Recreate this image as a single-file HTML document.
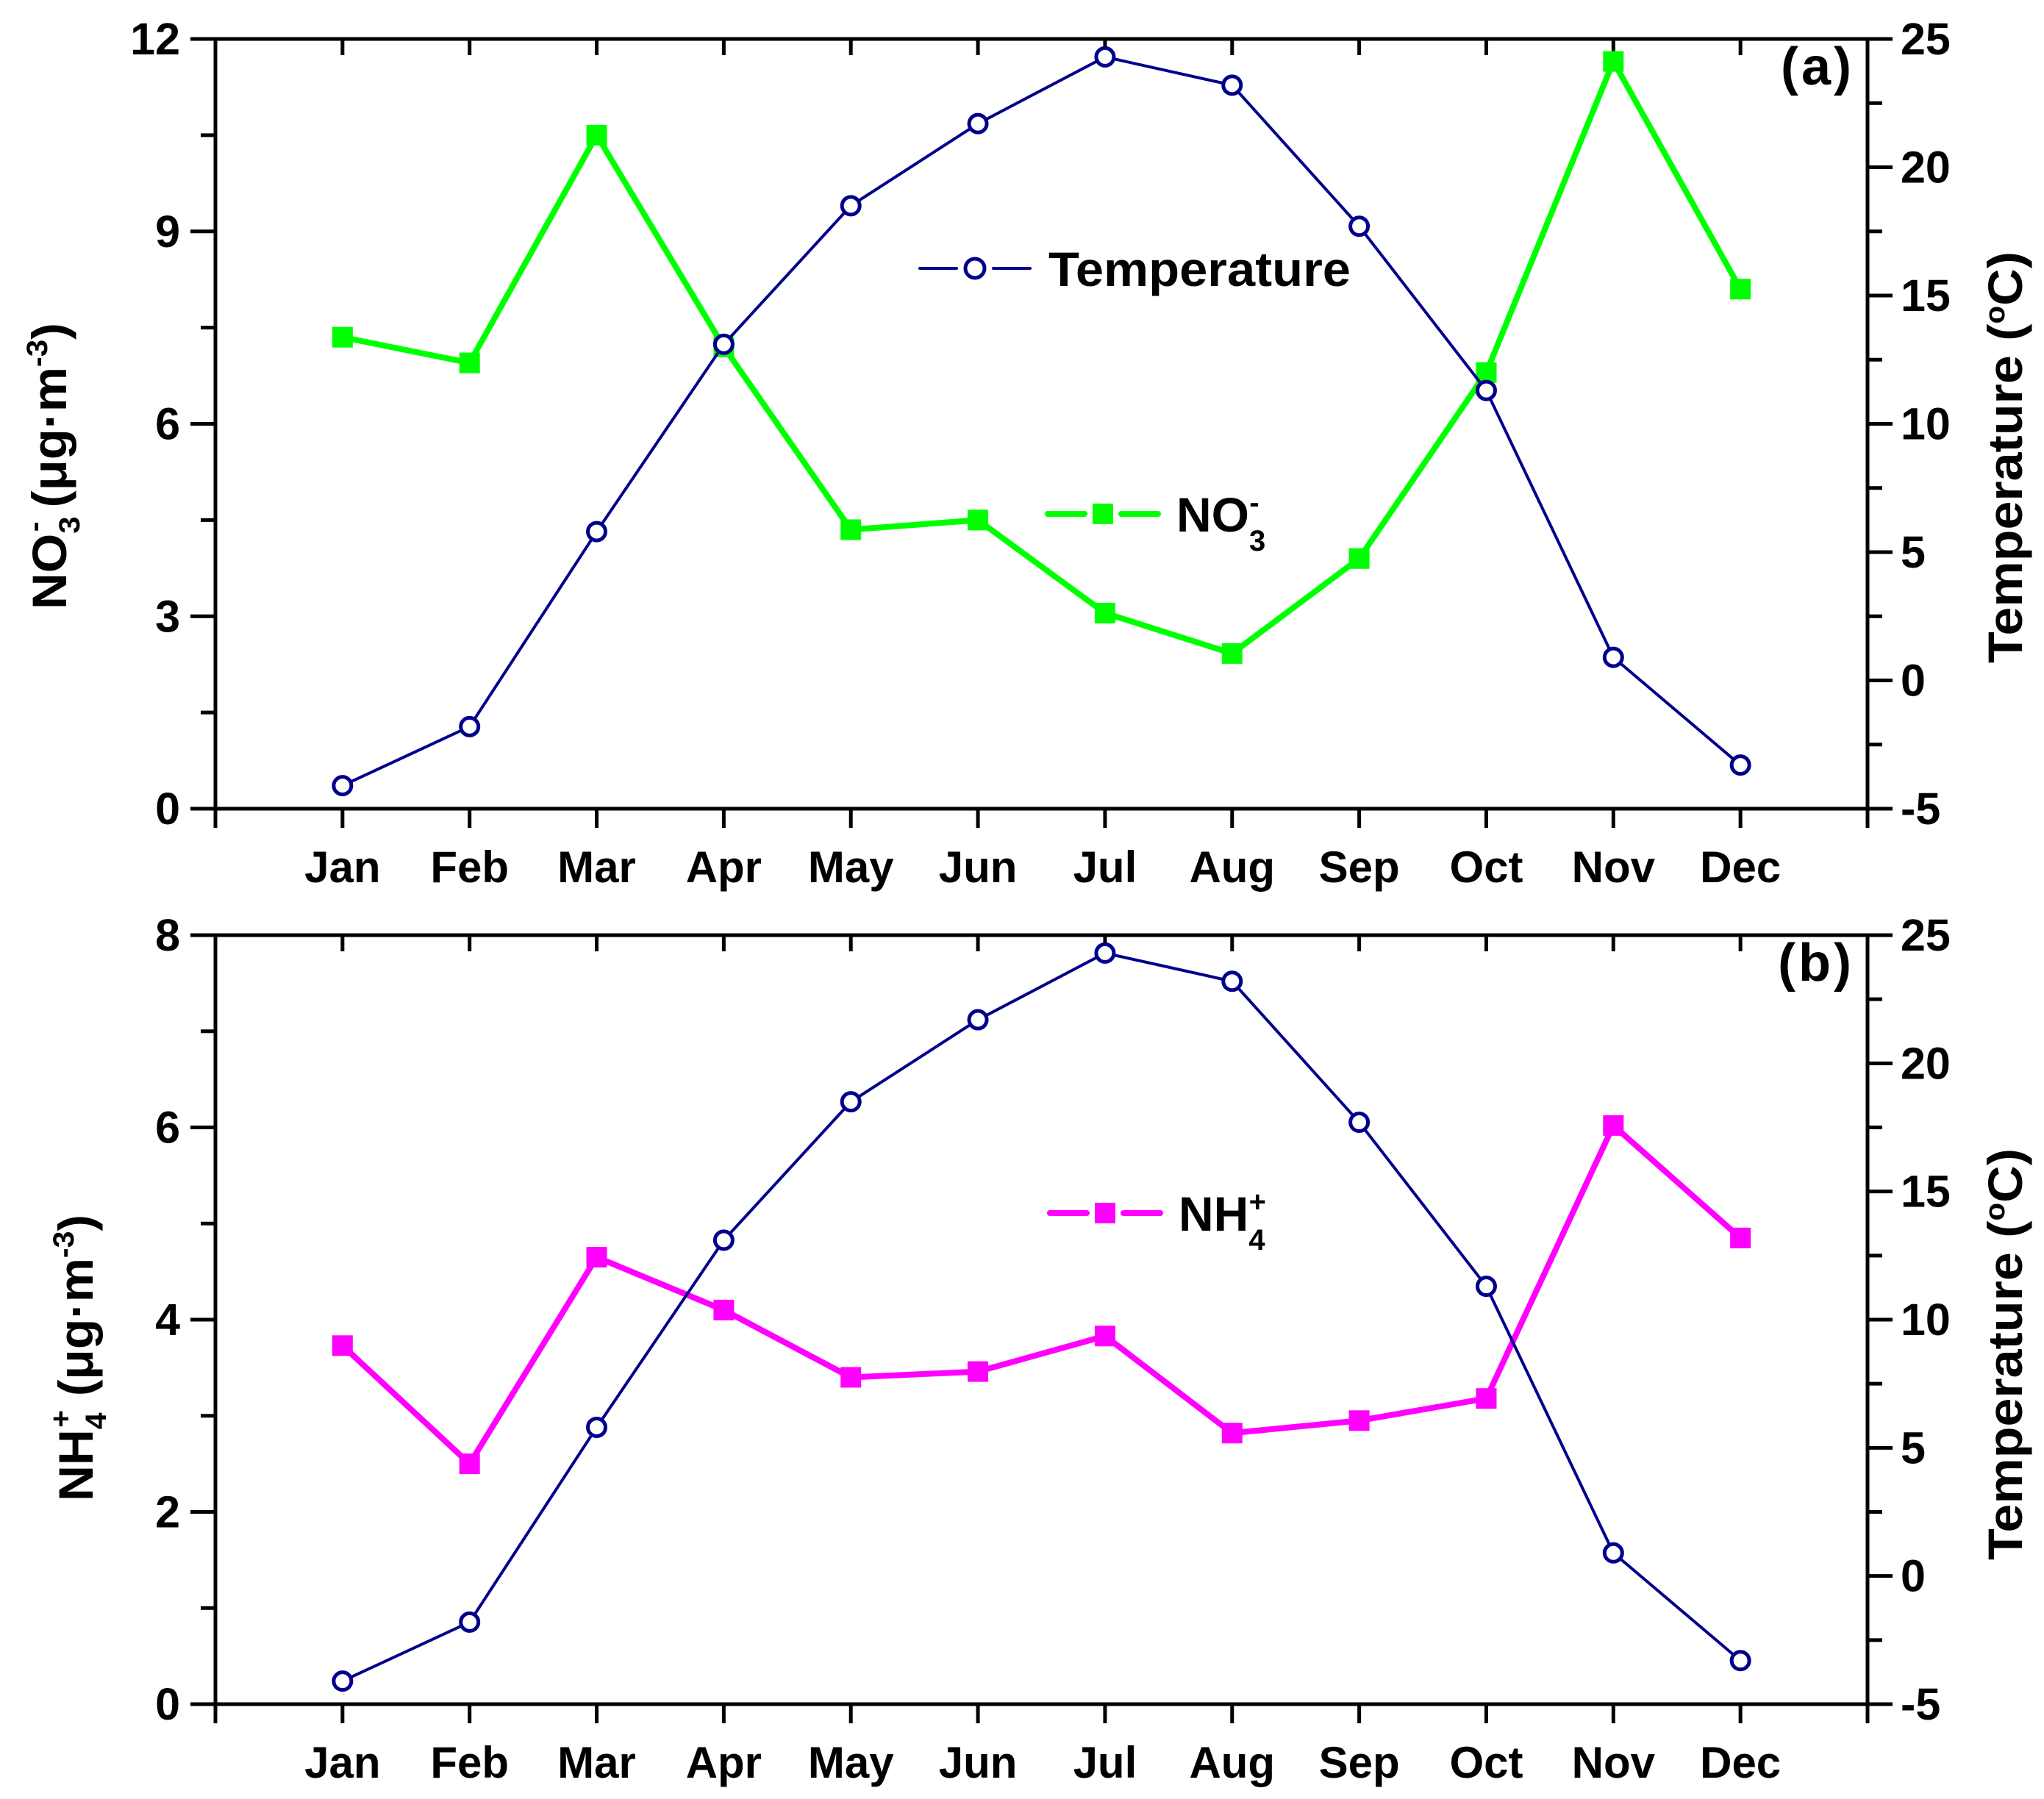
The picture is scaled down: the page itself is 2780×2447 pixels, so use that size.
<!DOCTYPE html>
<html><head><meta charset="utf-8"><style>
html,body{margin:0;padding:0;background:#fff}
svg{display:block}
text{font-family:"Liberation Sans",Arial,sans-serif;font-weight:bold;fill:#000}
</style></head><body>
<svg id="chart" width="2780" height="2447" viewBox="0 0 2780 2447" xmlns="http://www.w3.org/2000/svg"></svg>
<script>
const months = ["Jan","Feb","Mar","Apr","May","Jun","Jul","Aug","Sep","Oct","Nov","Dec"];
const temperature = [-4.1,-1.8,5.8,13.1,18.5,21.7,24.3,23.2,17.7,11.3,0.9,-3.3];
const nitrate = [7.35,6.95,10.5,7.2,4.35,4.5,3.05,2.42,3.9,6.8,11.65,8.1];
const ammonium = [3.73,2.5,4.65,4.1,3.4,3.46,3.83,2.82,2.95,3.18,6.02,4.85];
const nitrateTicks = [0,3,6,9,12];
const ammoniumTicks = [0,2,4,6,8];
const tempTicks = [-5,0,5,10,15,20,25];

const NS="http://www.w3.org/2000/svg";
const svg=document.getElementById('chart');
function el(tag,attrs,parent){const e=document.createElementNS(NS,tag);for(const k in attrs)e.setAttribute(k,attrs[k]);(parent||svg).appendChild(e);return e;}

const X0=293, X1=2540;
function xScale(i){return X0+(i+1)*(X1-X0)/13;}

function panel(cfg){
  const g=el('g',{});
  
  
  const T=cfg.top,B=cfg.bottom;
  const yL=v=>B-(v-cfg.lmin)/(cfg.lmax-cfg.lmin)*(B-T);
  const yR=v=>B-(v+5)/30*(B-T);
  const frame=el('rect',{x:X0,y:T,width:X1-X0,height:B-T,fill:'none',stroke:'#000','stroke-width':5},g);
  
  
  const step=cfg.ticks[1]-cfg.ticks[0];
  for(let v=cfg.lmin;v<=cfg.lmax+1e-9;v+=step/2){
    const major=Math.abs((v-cfg.lmin)/step-Math.round((v-cfg.lmin)/step))<1e-6;
    el('line',{x1:X0-(major?34:20),x2:X0,y1:yL(v),y2:yL(v),stroke:'#000','stroke-width':5},g);
  }
  cfg.ticks.forEach(v=>{
    const t=el('text',{x:X0-48,y:yL(v)+21,'font-size':61,'text-anchor':'end'},g);
    t.textContent=v;
    
    
  });
  for(let v=-5;v<=25;v+=2.5){
    const major=v%5===0;
    el('line',{x1:X1,x2:X1+(major?34:20),y1:yR(v),y2:yR(v),stroke:'#000','stroke-width':5},g);
  }
  tempTicks.forEach(v=>{
    const t=el('text',{x:2585,y:yR(v)+21,'font-size':61,'text-anchor':'start'},g);
    t.textContent=v;
    
    
  });
  [-1,...months.map((m,i)=>i),12].forEach(i=>{
    el('line',{x1:xScale(i),x2:xScale(i),y1:B,y2:B+26,stroke:'#000','stroke-width':5},g);
    if(i>=0&&i<12) el('line',{x1:xScale(i),x2:xScale(i),y1:T,y2:T+22,stroke:'#000','stroke-width':5},g);
  });
  months.forEach((m,i)=>{
    const t=el('text',{x:xScale(i),y:B+100,'font-size':60,'text-anchor':'middle'},g);
    t.textContent=m;
    
    
  });
  const pts=cfg.values.map((v,i)=>xScale(i)+','+yL(v)).join(' ');
  const pl=el('polyline',{points:pts,fill:'none',stroke:cfg.color,'stroke-width':8},g);
  
  
  cfg.values.forEach((v,i)=>{
    const r=el('rect',{x:xScale(i)-14,y:yL(v)-14,width:28,height:28,fill:cfg.color},g);
    
    
  });
  const tp=temperature.map((v,i)=>xScale(i)+','+yR(v)).join(' ');
  const tl=el('polyline',{points:tp,fill:'none',stroke:'#00008B','stroke-width':4},g);
  
  
  temperature.forEach((v,i)=>{
    const c=el('circle',{cx:xScale(i),cy:yR(v),r:12,fill:'#fff',stroke:'#00008B','stroke-width':5},g);
    
    
  });
  const pl2=el('text',{x:2522,y:T+62,'font-size':72,'text-anchor':'end','letter-spacing':4},g);
  pl2.textContent=cfg.label;
  
  
  const rt=el('text',{x:0,y:0,'font-size':66,'text-anchor':'middle',transform:`translate(2750,${cfg.rtY}) rotate(-90)`},g);
  rt.innerHTML='Temperature (<tspan font-size="38" dy="-24">o</tspan><tspan dy="24">C)</tspan>';
  
  
  rt.setAttribute('textLength','560');
  rt.setAttribute('lengthAdjust','spacingAndGlyphs');
  return {g,yL,yR};
}

const a=panel({name:'panel-a',top:53,bottom:1100,lmin:0,lmax:12,ticks:nitrateTicks,values:nitrate,color:'#00FF00',seriesName:'nitrate',label:'(a)',rtY:622});
const b=panel({name:'panel-b',top:1272,bottom:2318,lmin:0,lmax:8,ticks:ammoniumTicks,values:ammonium,color:'#FF00FF',seriesName:'ammonium',label:'(b)',rtY:1842});

let t=el('text',{x:0,y:0,'font-size':66,'text-anchor':'middle',transform:'translate(90,634) rotate(-90)'});
t.innerHTML='NO<tspan font-size="40" dy="18">3</tspan><tspan font-size="40" dx="-20" dy="-48">-</tspan><tspan dy="30"> (μg·m</tspan><tspan font-size="40" dy="-26">-3</tspan><tspan dy="26">)</tspan>';


t.setAttribute('textLength','390');
t.setAttribute('lengthAdjust','spacingAndGlyphs');
t=el('text',{x:0,y:0,'font-size':66,'text-anchor':'middle',transform:'translate(126,1847) rotate(-90)'});
t.innerHTML='NH<tspan font-size="40" dy="18">4</tspan><tspan font-size="40" dx="-20" dy="-48">+</tspan><tspan dy="30"> (μg·m</tspan><tspan font-size="40" dy="-26">-3</tspan><tspan dy="26">)</tspan>';


t.setAttribute('textLength','390');
t.setAttribute('lengthAdjust','spacingAndGlyphs');

function legend(cx,cy,kind,color,html,name,len){
  const g=el('g',{});
  
  
  el('line',{x1:cx-75,x2:cx-25,y1:cy,y2:cy,stroke:color,'stroke-width':kind==='c'?4:8,'stroke-linecap':'round'},g);
  el('line',{x1:cx+25,x2:cx+75,y1:cy,y2:cy,stroke:color,'stroke-width':kind==='c'?4:8,'stroke-linecap':'round'},g);
  if(kind==='c') el('circle',{cx:cx,cy:cy,r:13,fill:'#fff',stroke:color,'stroke-width':5},g);
  else el('rect',{x:cx-14,y:cy-14,width:28,height:28,fill:color},g);
  const tx=el('text',{x:cx+100,y:cy+24,'font-size':66},g);
  tx.innerHTML=html;
  if(len){tx.setAttribute('textLength',len);tx.setAttribute('lengthAdjust','spacingAndGlyphs');}
}
legend(1326,365,'c','#00008B','Temperature','legend-temperature','411');
legend(1500,699,'s','#00FF00','NO<tspan font-size="40" dy="26">3</tspan><tspan font-size="40" dx="-22" dy="-52">-</tspan>','legend-nitrate',null);
legend(1503,1650,'s','#FF00FF','NH<tspan font-size="40" dy="26">4</tspan><tspan font-size="40" dx="-22" dy="-52">+</tspan>','legend-ammonium',null);
</script>
</body></html>
